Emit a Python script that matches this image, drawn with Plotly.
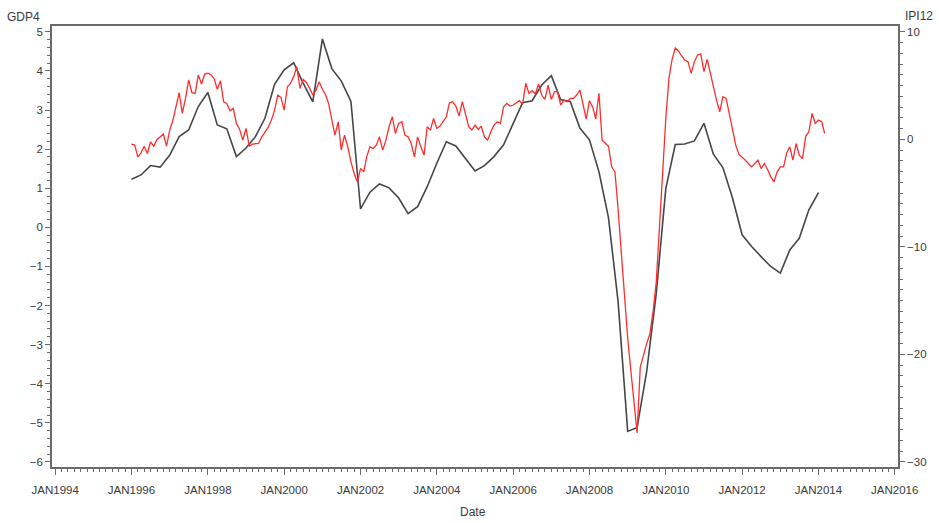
import pandas as pd
import plotly.graph_objects as go

# Quarterly GDP growth (left axis), first quarter 1996 through first quarter 2014
gdp4_start = "1996-01-01"
gdp4 = [
    1.23, 1.34, 1.58, 1.54,
    1.85, 2.32, 2.49, 3.09,
    3.45, 2.62, 2.52, 1.81,
    2.03, 2.32, 2.79, 3.66,
    4.03, 4.21, 3.69, 3.21,
    4.82, 4.06, 3.74, 3.22,
    0.47, 0.90, 1.11, 1.01,
    0.75, 0.35, 0.53, 1.04,
    1.64, 2.19, 2.08, 1.77,
    1.44, 1.58, 1.81, 2.11,
    2.66, 3.19, 3.24, 3.64,
    3.88, 3.26, 3.22, 2.54,
    2.24, 1.42, 0.25, -1.90,
    -5.22, -5.12, -3.70, -1.70,
    1.00, 2.12, 2.13, 2.21,
    2.66, 1.87, 1.53, 0.75,
    -0.19, -0.49, -0.75, -1.00,
    -1.17, -0.58, -0.28, 0.45,
    0.89,
]

# Monthly industrial production growth (right axis), Jan 1996 through Mar 2014
ipi12_start = "1996-01-01"
ipi12 = [
    -0.44, -0.53, -1.62, -1.25, -0.63, -1.31, -0.22, -0.63, 0.00, 0.24, 0.49, -0.63,
    0.87, 1.80, 2.88, 4.35, 2.42, 3.82, 5.53, 4.35, 4.28, 5.99, 5.15, 6.08,
    6.15, 5.99, 5.68, 4.66, 5.46, 3.50, 3.35, 2.67, 2.88, 1.49, 0.93, -0.07,
    1.02, -0.63, -0.44, -0.38, -0.38, 0.24, 0.71, 1.11, 1.80, 2.73, 4.13, 3.91,
    2.73, 4.90, 5.21, 5.84, 6.77, 4.75, 5.59, 5.30, 4.75, 4.13, 4.59, 5.37,
    4.66, 4.13, 3.35, 1.95, 0.40, 1.64, -1.00, 0.40, -0.69, -2.09, -3.17, -3.95,
    -2.71, -3.02, -1.62, -0.69, -0.84, -0.53, 0.24, -1.00, -0.07, 1.18, 2.11, 0.55,
    1.49, 1.64, 0.40, 0.24, -0.38, -1.62, 0.24, -0.69, -1.46, 1.18, 0.87, 1.95,
    1.02, 1.24, 1.64, 2.11, 3.41, 3.51, 3.10, 2.17, 3.51, 2.26, 1.18, 0.87,
    1.33, 0.93, 1.24, 0.24, -0.07, 0.71, 1.33, 1.64, 1.49, 3.04, 3.35, 3.10,
    3.20, 3.41, 3.60, 3.29, 5.22, 4.28, 4.53, 4.22, 5.15, 4.13, 3.72, 5.06,
    3.72, 4.44, 4.44, 3.20, 3.66, 3.51, 3.82, 3.82, 4.13, 4.60, 3.20, 1.90,
    3.60, 3.00, 1.90, 4.28, -0.07, -0.32, -0.63, -2.55, -3.02, -6.50, -10.40, -14.80,
    -18.50, -21.60, -24.40, -27.30, -21.20, -20.00, -19.00, -18.10, -16.00, -13.30, -8.00, -2.50,
    2.00, 5.80, 7.40, 8.50, 8.23, 7.76, 7.39, 7.23, 6.15, 7.23, 7.86, 7.95,
    6.30, 7.45, 6.15, 4.90, 3.66, 2.57, 3.97, 3.82, 2.26, 0.87, -0.53, -1.37,
    -1.62, -1.93, -2.24, -2.55, -2.24, -1.93, -2.71, -2.24, -2.80, -3.48, -3.95, -3.02,
    -2.55, -2.55, -1.31, -0.69, -1.93, -0.38, -1.46, -1.78, 0.31, 0.71, 2.42, 1.49,
    1.80, 1.64, 0.55,
]

# Axis ticks
x_tick_dates = ["1994-01-01", "1996-01-01", "1998-01-01", "2000-01-01", "2002-01-01", "2004-01-01",
                "2006-01-01", "2008-01-01", "2010-01-01", "2012-01-01", "2014-01-01", "2016-01-01"]
x_tick_labels = ["JAN1994", "JAN1996", "JAN1998", "JAN2000", "JAN2002", "JAN2004",
                 "JAN2006", "JAN2008", "JAN2010", "JAN2012", "JAN2014", "JAN2016"]
y_left_ticks = [-6, -5, -4, -3, -2, -1, 0, 1, 2, 3, 4, 5]
y_right_ticks = [-30, -20, -10, 0, 10]

gdp_dates = pd.date_range(gdp4_start, periods=len(gdp4), freq="QS")
ipi_dates = pd.date_range(ipi12_start, periods=len(ipi12), freq="MS")
x_minor = [d.strftime("%Y-%m-%d") for d in pd.date_range("1994-01-01", "2016-01-01", freq="2MS")]

FONT = "Liberation Sans, Arial, sans-serif"
TXT = "#3a3a3a"
AX = "#6a6a6a"

fig = go.Figure()
fig.add_trace(go.Scatter(
    x=gdp_dates, y=gdp4, mode="lines", name="GDP4",
    line=dict(color="rgb(70,70,70)", width=1.6), yaxis="y",
))
fig.add_trace(go.Scatter(
    x=ipi_dates, y=ipi12, mode="lines", name="IPI12",
    line=dict(color="rgb(255,45,45)", width=1.3), yaxis="y2",
))

tickfont = dict(family=FONT, size=11.5, color=TXT)

fig.update_layout(
    width=939, height=523,
    margin=dict(l=52, r=36, t=26, b=56),
    paper_bgcolor="white", plot_bgcolor="white",
    showlegend=False,
    font=dict(family=FONT, size=11.5, color=TXT),
    xaxis=dict(
        type="date", range=["1993-12-01", "2016-02-01"],
        tickmode="array", tickvals=x_tick_dates, ticktext=x_tick_labels,
        ticks="outside", ticklen=6, tickwidth=1.2, tickcolor=AX,
        showline=True, linecolor=AX, linewidth=1.6, mirror=True,
        showgrid=False, zeroline=False, tickfont=tickfont,
        ticklabelstandoff=5,
        minor=dict(tickmode="array", tickvals=x_minor, ticks="outside",
                   ticklen=3, tickwidth=1, tickcolor=AX, showgrid=False),
    ),
    yaxis=dict(
        range=[-6.13, 5.15], tickmode="array", tickvals=y_left_ticks,
        ticks="outside", ticklen=5, tickwidth=1.2, tickcolor=AX,
        showline=True, linecolor=AX, linewidth=1.6,
        showgrid=False, zeroline=False, tickfont=tickfont,
        minor=dict(dtick=0.2, tick0=0, ticks="outside", ticklen=3,
                   tickwidth=1, tickcolor=AX, showgrid=False),
    ),
    yaxis2=dict(
        overlaying="y", side="right",
        range=[-30.47, 10.55], tickmode="array", tickvals=y_right_ticks,
        ticks="outside", ticklen=5, tickwidth=1.2, tickcolor=AX,
        showline=True, linecolor=AX, linewidth=1.6,
        showgrid=False, zeroline=False, tickfont=tickfont,
        minor=dict(dtick=1, tick0=0, ticks="outside", ticklen=3,
                   tickwidth=1, tickcolor=AX, showgrid=False),
    ),
    annotations=[
        dict(text="GDP4", xref="paper", yref="paper", x=-0.034, y=1.021,
             xanchor="center", yanchor="middle", showarrow=False,
             font=dict(family=FONT, size=12, color=TXT)),
        dict(text="IPI12", xref="paper", yref="paper", x=1.0247, y=1.0227,
             xanchor="center", yanchor="middle", showarrow=False,
             font=dict(family=FONT, size=12, color=TXT)),
        dict(text="Date", xref="paper", yref="paper", x=0.498, y=-0.103,
             xanchor="center", yanchor="middle", showarrow=False,
             font=dict(family=FONT, size=12, color=TXT)),
    ],
)

fig.write_html("out.html")
